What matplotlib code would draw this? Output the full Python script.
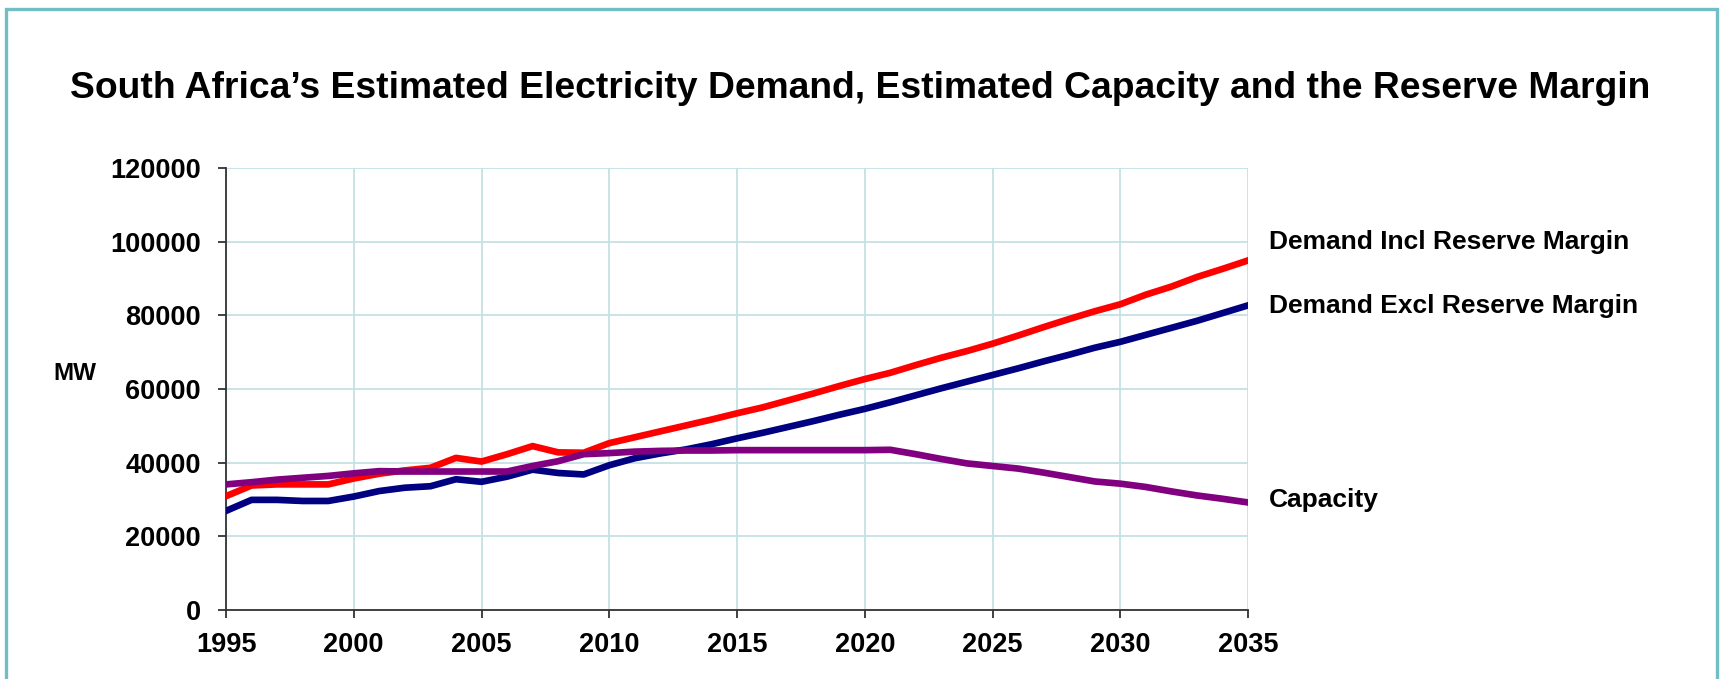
import matplotlib
matplotlib.use("Agg")
import matplotlib.pyplot as plt
from matplotlib.patches import Rectangle

plt.rcParams['font.family'] = ['Liberation Sans', 'DejaVu Sans']
plt.rcParams['font.weight'] = 'bold'

years = list(range(1995, 2036))

# MW
demand_incl = [30900, 33800, 34100, 34100, 34100, 35700, 37000, 37900, 38600, 41300,
               40300, 42300, 44500, 42800, 42700, 45300, 46900, 48500, 50100, 51700,
               53400, 55000, 56900, 58800, 60800, 62700, 64400, 66500, 68500, 70300,
               72300, 74500, 76800, 79000, 81100, 83000, 85600, 87800, 90400, 92600,
               94900]
demand_excl = [26900, 29900, 29900, 29600, 29600, 30800, 32300, 33200, 33600, 35500,
               34800, 36200, 38100, 37200, 36800, 39300, 41200, 42500, 43600, 45000,
               46600, 48100, 49700, 51300, 53000, 54600, 56400, 58300, 60200, 62000,
               63800, 65600, 67500, 69300, 71200, 72800, 74700, 76600, 78500, 80600,
               82700]
capacity = [34100, 34700, 35400, 35900, 36400, 37100, 37700, 37600, 37600, 37600,
            37600, 37600, 39100, 40400, 42300, 42600, 43000, 43200, 43300, 43300,
            43400, 43400, 43400, 43400, 43400, 43400, 43500, 42300, 41000, 39800,
            39100, 38400, 37300, 36100, 34900, 34300, 33400, 32200, 31100, 30200,
            29200]

series_labels = ['Demand Incl Reserve Margin', 'Demand Excl Reserve Margin', 'Capacity']
label_y = [100000, 82500, 30000]
colors = ['#ff0000', '#000080', '#800080']

fig = plt.figure(figsize=(17.21, 6.79), dpi=100)
ax = fig.add_axes([226 / 1721, 69 / 679, 1022 / 1721, 442 / 679])

for vals, c in zip([demand_incl, demand_excl, capacity], colors):
    ax.plot(years, vals, color=c, lw=4.8, solid_joinstyle='round', zorder=3)

ax.set_xlim(1995, 2035)
ax.set_ylim(0, 120000)
ax.set_xticks(range(1995, 2036, 5))
ax.set_yticks(range(0, 120001, 20000))
ax.grid(True, color='#c4e0e4', lw=1.3, zorder=0)
ax.spines['top'].set_visible(False)
ax.spines['right'].set_visible(False)
for s in ['left', 'bottom']:
    ax.spines[s].set_color('#333333')
    ax.spines[s].set_linewidth(1.3)
ax.tick_params(direction='out', length=6, width=1.3, color='#333333',
               labelsize=19.5, pad=10)
ax.tick_params(axis='y', pad=12)

for lab, y in zip(series_labels, label_y):
    ax.annotate(lab, xy=(1, y), xycoords=('axes fraction', 'data'),
                xytext=(21, 0), textcoords='offset pixels',
                ha='left', va='center', fontsize=19, fontweight='bold')

fig.text(75 / 1721, 1 - 373 / 679, 'MW', ha='center', va='center',
         fontsize=17.5, fontweight='bold')

fig.text(860 / 1721, 1 - 88 / 679,
         'South Africa\u2019s Estimated Electricity Demand, Estimated Capacity and the Reserve Margin',
         ha='center', va='center', fontsize=26.8, fontweight='bold')

fig.add_artist(Rectangle((5.5 / 1721, -0.1), 1711 / 1721, 1.1 - 9.5 / 679,
                         transform=fig.transFigure, fill=False,
                         edgecolor='#72bec4', lw=2.4))

fig.savefig('out.png', dpi=100)
